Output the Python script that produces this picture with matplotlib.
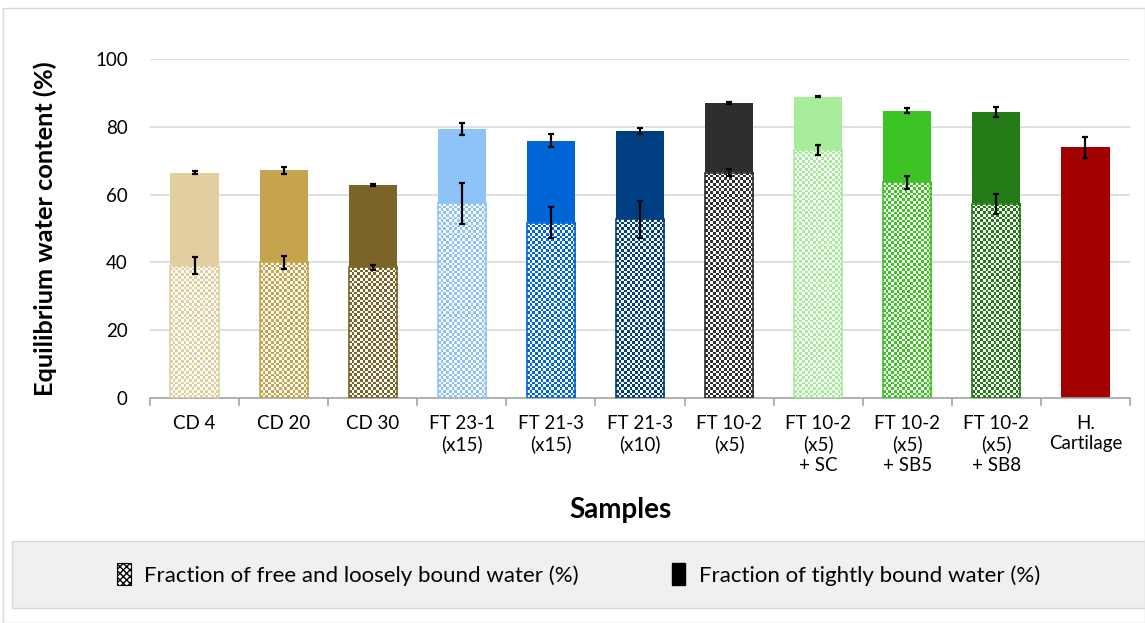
import numpy as np
import matplotlib.pyplot as plt
from matplotlib.colors import to_rgb
from matplotlib.patches import Patch, Rectangle

plt.rcParams['font.family'] = ['Lato', 'DejaVu Sans']

samples = ["CD 4", "CD 20", "CD 30", "FT 23-1\n(x15)", "FT 21-3\n(x15)", "FT 21-3\n(x10)",
           "FT 10-2\n(x5)", "FT 10-2\n(x5)\n+ SC", "FT 10-2\n(x5)\n+ SB5", "FT 10-2\n(x5)\n+ SB8",
           "H.\nCartilage"]
total_water = [66.5, 67.2, 62.8, 79.3, 75.9, 78.8, 87.1, 88.9, 84.8, 84.3, 73.9]
total_err = [0.5, 1.0, 0.3, 1.8, 2.0, 0.8, 0.3, 0.2, 0.7, 1.5, 3.2]
free_water = [39.0, 40.0, 38.5, 57.4, 51.7, 52.7, 66.5, 73.2, 63.6, 57.3, None]
free_err = [2.5, 2.0, 0.6, 6.0, 4.6, 5.5, 1.0, 1.5, 2.0, 3.0, None]
colors = ["#E2CFA0", "#C6A44E", "#7A6428", "#8EC3FA", "#0066D6", "#003E82",
          "#2E2E2E", "#A7EC9A", "#3DC424", "#237A16", "#A30000"]

W, H, DPI = 11.45, 6.23, 100
fig = plt.figure(figsize=(W, H), dpi=DPI)
ax = fig.add_axes([150/1145, 1-398/623, 980/1145, 339/623])
x = np.arange(len(samples))
bw = 0.54
xlim = (-0.5, len(samples) - 0.5)
ax.set_xlim(xlim)
ax.set_ylim(0, 100)

# pixel scale for the checker texture
px_x = 980 / (xlim[1] - xlim[0])
px_y = 339 / 100.0
cell = 2.7

for i in range(len(samples)):
    c = colors[i]
    fw = free_water[i]
    if fw is None:
        ax.bar(x[i], total_water[i], bw, color=c, zorder=2)
        ax.errorbar(x[i], total_water[i], yerr=total_err[i], fmt='none', ecolor='black',
                    elinewidth=1.6, capsize=2.5, capthick=1.6, zorder=4)
        continue
    ax.bar(x[i], total_water[i] - fw, bw, bottom=fw, color=c, zorder=2)
    nr = max(int(round(fw * px_y / cell)), 1)
    nc = max(int(round(bw * px_x / cell)), 1)
    chk = (np.add.outer(np.arange(nr), np.arange(nc)) % 2)[..., None]
    img = chk * np.array(to_rgb(c)) + (1 - chk) * np.ones(3)
    ax.imshow(img, extent=[x[i] - bw/2, x[i] + bw/2, 0, fw], aspect='auto',
              interpolation='nearest', zorder=2)
    ax.bar(x[i], fw, bw, color='none', edgecolor=c, linewidth=1.2, zorder=3)
    ax.errorbar(x[i], total_water[i], yerr=total_err[i], fmt='none', ecolor='black',
                elinewidth=1.6, capsize=2.5, capthick=1.6, zorder=4)
    ax.errorbar(x[i], fw, yerr=free_err[i], fmt='none', ecolor='black',
                elinewidth=1.6, capsize=2.5, capthick=1.6, zorder=4)

ax.set_xlim(xlim)
ax.set_ylim(0, 100)
ax.set_yticks(np.arange(0, 101, 20))
ax.yaxis.grid(True, color='#D9D9D9', linewidth=1.2)
ax.set_axisbelow(True)
for s in ['top', 'right', 'left']:
    ax.spines[s].set_visible(False)
ax.spines['bottom'].set_color('#A6A6A6')
ax.spines['bottom'].set_linewidth(1.2)
ax.set_xticks(x)
ax.set_xticklabels(samples, fontsize=13.5, va='top', linespacing=1.25)
ax.set_xticks(np.arange(-0.5, len(samples)), minor=True)
ax.tick_params(axis='x', which='major', length=0, pad=12)
ax.tick_params(axis='x', which='minor', length=6, color='#A6A6A6', width=1.2)
ax.tick_params(axis='y', length=0, labelsize=13.5, pad=16)
ax.set_ylabel("Equilibrium water content (%)", fontsize=18.3, fontweight='bold', va='center')
ax.yaxis.set_label_coords(-105/980, 0.5)
ax.set_xlabel("Samples", fontsize=20, fontweight='bold', va='center')
ax.xaxis.set_label_coords(470/980, -112/339)

handles = [Patch(facecolor='white', edgecolor='black', hatch='xxxxx', linewidth=0.8),
           Patch(facecolor='black', edgecolor='black')]
labels = ["Fraction of free and loosely bound water (%)", "Fraction of tightly bound water (%)"]
leg = fig.legend(handles, labels, loc='center', ncol=2, fontsize=16,
                 bbox_to_anchor=(12/1145, 1-608/623, 1133/1145, 67/623),
                 frameon=False, handlelength=0.6, handleheight=1.1, columnspacing=4.2,
                 handletextpad=0.6)
fig.patches.append(Rectangle((12/1145, 1-608/623), 1133/1145, 67/623, transform=fig.transFigure,
                             facecolor='#F0F0F0', edgecolor='#D9D9D9', zorder=-1))
fig.patches.append(Rectangle((3/1145, 0), 1142/1145, 1-8/623, transform=fig.transFigure,
                             facecolor='none', edgecolor='#D9D9D9', zorder=-2))

fig.savefig("out.png", dpi=DPI)
